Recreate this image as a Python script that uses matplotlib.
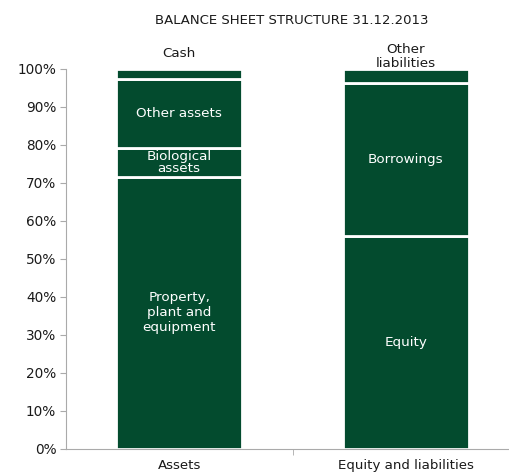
import numpy as np
import matplotlib.pyplot as plt

''' Balance sheet structure, stacked 100% bars '''

categories = ['Assets', 'Equity and liabilities']
asset_parts = ['Property,\nplant and\nequipment', 'Biological\nassets', 'Other assets', 'Cash']
asset_values = [71.6, 7.7, 18.0, 2.7]
liab_parts = ['Equity', 'Borrowings', 'Other\nliabilities']
liab_values = [56.0, 40.3, 3.7]
top_label_y = [104.2, 103.3]

green = '#034B2E'
txt = '#1a1a1a'

fig = plt.figure(figsize=(5.09, 4.75), dpi=100)
ax = fig.add_axes([66 / 509, 26 / 475, 453 / 509, 380 / 475])

bar_w = 0.557
stacks = [(asset_parts, asset_values), (liab_parts, liab_values)]
for i, (parts, vals) in enumerate(stacks):
    bottom = 0
    for j, (name, v) in enumerate(zip(parts, vals)):
        ax.bar(i, v, bottom=bottom, width=bar_w, color=green,
               edgecolor='white', linewidth=2)
        if j == len(parts) - 1:
            # small top segment: label sits above the bar
            ax.text(i, top_label_y[i], name, ha='center', va='center',
                    fontsize=9.7, color=txt, linespacing=1.15, clip_on=False)
        else:
            sp = 0.95 if name.startswith('Bio') else 1.2
            ax.text(i, bottom + v / 2, name, ha='center', va='center',
                    fontsize=9.7, color='white', linespacing=sp)
        bottom += v

ax.set_xlim(-0.5, 1.5)
ax.set_ylim(0, 100)
ax.set_yticks(np.arange(0, 101, 10))
ax.set_yticklabels([f"{t}%" for t in range(0, 101, 10)], fontsize=9.8, color=txt)
ax.set_xticks([0, 1])
ax.set_xticklabels(categories, fontsize=9.6, color=txt)
ax.set_xticks([0.5], minor=True)
ax.tick_params(axis='x', which='major', length=0, pad=7)
ax.tick_params(axis='x', which='minor', length=4, color='#aaaaaa', direction='out')
ax.tick_params(axis='y', length=4, color='#aaaaaa', pad=3)

for s in ['top', 'right']:
    ax.spines[s].set_visible(False)
for s in ['left', 'bottom']:
    ax.spines[s].set_color('#aaaaaa')

fig.text(292 / 509, 1 - 20 / 475, 'BALANCE SHEET STRUCTURE 31.12.2013',
         ha='center', va='center', fontsize=9.5, color=txt)

plt.savefig('out.png', dpi=100)
